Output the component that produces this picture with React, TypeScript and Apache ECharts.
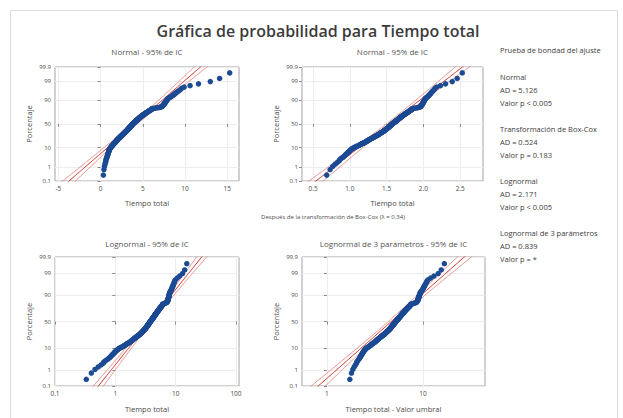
import React, { useEffect, useRef } from "react";
import * as echarts from "echarts";

const TIEMPO_TOTAL = [
  0.33, 0.4, 0.46, 0.52, 0.58, 0.63, 0.65, 0.69, 0.74, 0.78,
  0.81, 0.84, 0.86, 0.89, 0.91, 0.94, 0.96, 0.98, 1.0, 1.02,
  1.05, 1.08, 1.1, 1.13, 1.16, 1.2, 1.24, 1.28, 1.32, 1.36,
  1.4, 1.44, 1.47, 1.5, 1.53, 1.56, 1.6, 1.64, 1.68, 1.72,
  1.75, 1.78, 1.81, 1.84, 1.87, 1.89, 1.92, 1.95, 1.97, 2.0,
  2.03, 2.06, 2.09, 2.12, 2.15, 2.18, 2.21, 2.24, 2.27, 2.3,
  2.33, 2.36, 2.39, 2.42, 2.45, 2.48, 2.51, 2.54, 2.57, 2.6,
  2.62, 2.65, 2.67, 2.7, 2.72, 2.75, 2.77, 2.8, 2.82, 2.85,
  2.87, 2.9, 2.92, 2.95, 2.97, 3.0, 3.02, 3.05, 3.07, 3.1,
  3.12, 3.14, 3.16, 3.18, 3.2, 3.22, 3.24, 3.26, 3.28, 3.3,
  3.32, 3.34, 3.36, 3.38, 3.4, 3.42, 3.44, 3.46, 3.48, 3.5,
  3.52, 3.54, 3.56, 3.58, 3.6, 3.62, 3.64, 3.66, 3.68, 3.7,
  3.72, 3.74, 3.76, 3.78, 3.8, 3.82, 3.84, 3.86, 3.88, 3.9,
  3.93, 3.95, 3.98, 4.0, 4.03, 4.05, 4.08, 4.1, 4.13, 4.15,
  4.18, 4.2, 4.23, 4.25, 4.28, 4.3, 4.33, 4.35, 4.38, 4.4,
  4.42, 4.45, 4.47, 4.5, 4.52, 4.55, 4.57, 4.6, 4.62, 4.65,
  4.68, 4.71, 4.74, 4.77, 4.8, 4.83, 4.86, 4.89, 4.92, 4.95,
  4.98, 5.02, 5.05, 5.09, 5.12, 5.16, 5.19, 5.23, 5.26, 5.3,
  5.34, 5.38, 5.42, 5.46, 5.5, 5.54, 5.58, 5.62, 5.66, 5.7,
  5.75, 5.8, 5.85, 5.9, 5.94, 5.98, 6.02, 6.05, 6.08, 6.1,
  6.3, 6.5, 6.7, 6.9, 7.05, 7.15, 7.2, 7.25, 7.3, 7.35,
  7.38, 7.41, 7.44, 7.47, 7.5, 7.53, 7.56, 7.59, 7.62, 7.65,
  7.68, 7.71, 7.74, 7.77, 7.8, 7.84, 7.88, 7.92, 7.96, 8.0,
  8.1, 8.2, 8.3, 8.4, 8.5, 8.6, 8.7, 8.8, 8.9, 9.0,
  9.15, 9.3, 9.45, 9.6, 9.9, 10.6, 11.6, 13.0, 14.1, 15.3,
];

const PCT_TICKS = [0.1, 1, 10, 50, 90, 99, 99.9];
const X_TICKS_NORMAL = [-5, 0, 5, 10, 15];
const X_TICKS_BOXCOX = [0.5, 1.0, 1.5, 2.0, 2.5];
const X_TICKS_LOGNORMAL = [0.1, 1, 10, 100];
const X_TICKS_LOG3 = [1, 10];

const LAMBDA = 0.34;
const THRESHOLD = -1.4;
// fitted [location, scale]
const FIT_NORMAL = [4.05, 2.52];
const FIT_BOXCOX = [1.535, 0.322];
const FIT_LOGNORMAL = [0.575, 0.277]; // log10 units
const FIT_LOG3 = [0.67, 0.246]; // log10 units of (x - threshold)

const PANEL_TITLES = [
  "Normal - 95% de IC",
  "Normal - 95% de IC",
  "Lognormal - 95% de IC",
  "Lognormal de 3 parámetros - 95% de IC",
];
const X_NAMES = ["Tiempo total", "Tiempo total", "Tiempo total", "Tiempo total - Valor umbral"];
const GOF_LINES = [
  "Prueba de bondad del ajuste",
  "",
  "Normal",
  "AD = 5.126",
  "Valor p < 0.005",
  "",
  "Transformación de Box-Cox",
  "AD = 0.524",
  "Valor p = 0.183",
  "",
  "Lognormal",
  "AD = 2.171",
  "Valor p < 0.005",
  "",
  "Lognormal de 3 parámetros",
  "AD = 0.839",
  "Valor p = *",
];

function invNorm(p: number): number {
  const a = [-39.69683028665376, 220.9460984245205, -275.9285104469687, 138.357751867269, -30.66479806614716, 2.506628277459239];
  const b = [-54.47609879822406, 161.5858368580409, -155.6989798598866, 66.80131188771972, -13.28068155288572];
  const c = [-0.007784894002430293, -0.3223964580411365, -2.400758277161838, -2.549732539343734, 4.374664141464968, 2.938163982698783];
  const d = [0.007784695709041462, 0.3224671290700398, 2.445134137142996, 3.754408661907416];
  const pl = 0.02425;
  let q: number, r: number;
  if (p < pl) {
    q = Math.sqrt(-2 * Math.log(p));
    return (((((c[0] * q + c[1]) * q + c[2]) * q + c[3]) * q + c[4]) * q + c[5]) / ((((d[0] * q + d[1]) * q + d[2]) * q + d[3]) * q + 1);
  }
  if (p > 1 - pl) {
    q = Math.sqrt(-2 * Math.log(1 - p));
    return -(((((c[0] * q + c[1]) * q + c[2]) * q + c[3]) * q + c[4]) * q + c[5]) / ((((d[0] * q + d[1]) * q + d[2]) * q + d[3]) * q + 1);
  }
  q = p - 0.5;
  r = q * q;
  return ((((((a[0] * r + a[1]) * r + a[2]) * r + a[3]) * r + a[4]) * r + a[5]) * q) / (((((b[0] * r + b[1]) * r + b[2]) * r + b[3]) * r + b[4]) * r + 1);
}

const FONT = "Open Sans";
const TXT = "#4a4a4a";

export default function App() {
  const ref = useRef<HTMLDivElement>(null);
  useEffect(() => {
    document.body.style.margin = "0";
    const chart = echarts.init(ref.current!, undefined, { renderer: "svg" });
    const n = TIEMPO_TOTAL.length;
    const zs = TIEMPO_TOTAL.map((_, i) => invNorm((i + 1 - 0.3) / (n + 0.4)));
    const yTickZ = PCT_TICKS.map((p) => invNorm(p / 100));
    const zLo = Math.min(...yTickZ) - 1e-6;
    const zHi = Math.max(...yTickZ) + 1e-6;

    const panels = [
      { tf: (v: number) => v, fit: FIT_NORMAL, ticks: X_TICKS_NORMAL, min: -5.4, max: 16.4, fmt: (t: number) => String(t) },
      { tf: (v: number) => Math.pow(v, LAMBDA), fit: FIT_BOXCOX, ticks: X_TICKS_BOXCOX, min: 0.35, max: 2.81, fmt: (t: number) => t.toFixed(1) },
      { tf: (v: number) => Math.log10(v), fit: FIT_LOGNORMAL, ticks: X_TICKS_LOGNORMAL, min: -1.000001, max: 2.05, fmt: (t: number) => String(t), log: true },
      { tf: (v: number) => Math.log10(v - THRESHOLD), fit: FIT_LOG3, ticks: X_TICKS_LOG3, min: -0.26, max: 1.646, fmt: (t: number) => String(t), log: true },
    ];
    const grids = [
      { left: 55, top: 67, width: 184, height: 114 },
      { left: 302, top: 67, width: 181, height: 114 },
      { left: 55, top: 257, width: 184, height: 129 },
      { left: 302, top: 257, width: 183, height: 129 },
    ];

    const xAxis: any[] = [];
    const yAxis: any[] = [];
    const series: any[] = [];
    const zLine: number[] = [];
    for (let z = -3.3; z <= 3.3001; z += 0.05) zLine.push(z);

    panels.forEach((pn, k) => {
      const tickVals = pn.ticks.map((t) => (pn.log ? Math.log10(t) : t));
      xAxis.push({
        type: "value",
        gridIndex: k,
        min: pn.min,
        max: pn.max,
        axisLine: { show: false },
        axisTick: { show: true, customValues: tickVals, length: 3, lineStyle: { color: "#8a8a8a" } },
        axisLabel: {
          customValues: tickVals,
          fontSize: 6.5,
          color: TXT,
          margin: 4,
          fontFamily: FONT,
          formatter: (v: number) => {
            const i = tickVals.findIndex((t) => Math.abs(t - v) < 1e-6);
            return i >= 0 ? pn.fmt(pn.ticks[i]) : "";
          },
        },
        splitLine: { show: true, lineStyle: { color: "#ededed", width: 1 } },
        name: X_NAMES[k],
        nameLocation: "middle",
        nameGap: k < 2 ? 18 : 19,
        nameTextStyle: { fontSize: 7.5, color: TXT, fontFamily: FONT },
      });
      yAxis.push({
        type: "value",
        gridIndex: k,
        min: zLo,
        max: zHi,
        axisLine: { show: false },
        axisTick: { show: true, customValues: yTickZ, length: 3, lineStyle: { color: "#8a8a8a" } },
        axisLabel: {
          customValues: yTickZ,
          fontSize: 6,
          color: TXT,
          margin: 4,
          fontFamily: FONT,
          formatter: (v: number) => {
            const i = yTickZ.findIndex((t) => Math.abs(t - v) < 1e-6);
            return i >= 0 ? String(PCT_TICKS[i]) : "";
          },
        },
        splitLine: { show: true, lineStyle: { color: "#ededed", width: 1 } },
        name: "Porcentaje",
        nameLocation: "middle",
        nameGap: 22,
        nameRotate: 90,
        nameTextStyle: { fontSize: 7.5, color: TXT, fontFamily: FONT },
      });
      const [mu, sd] = pn.fit;
      const half = (z: number) => 1.96 * sd * Math.sqrt((1 + (z * z) / 2) / n);
      const lineBase = {
        type: "line",
        xAxisIndex: k,
        yAxisIndex: k,
        showSymbol: false,
        symbol: "none",
        silent: true,
        clip: true,
        z: 3,
      };
      series.push({ ...lineBase, data: zLine.map((z) => [mu + z * sd - half(z), z]), lineStyle: { color: "#e07a72", width: 0.8 } });
      series.push({ ...lineBase, data: zLine.map((z) => [mu + z * sd + half(z), z]), lineStyle: { color: "#e07a72", width: 0.8 } });
      series.push({ ...lineBase, data: zLine.map((z) => [mu + z * sd, z]), lineStyle: { color: "#c8302a", width: 1 } });
      series.push({
        type: "scatter",
        xAxisIndex: k,
        yAxisIndex: k,
        symbolSize: 5.5,
        z: 4,
        itemStyle: { color: "#1c4a93", opacity: 1 },
        data: TIEMPO_TOTAL.map((v, i) => [pn.tf(v), zs[i]]),
      });
    });

    const centers = grids.map((g) => g.left + g.width / 2);
    const graphic: any[] = [
      {
        type: "rect",
        shape: { x: 10.5, y: 10.5, width: 607, height: 430 },
        style: { fill: "none", stroke: "#dddddd", lineWidth: 1 },
        z: -1,
        silent: true,
      },
      {
        type: "text",
        x: 318,
        y: 31,
        style: { text: "Gráfica de probabilidad para Tiempo total", fontSize: 16, fontWeight: 600, fill: "#3c3c3c", fontFamily: FONT, textAlign: "center", textVerticalAlign: "middle" },
      },
      {
        type: "text",
        x: 333,
        y: 217,
        style: { text: "Después de la transformación de Box-Cox (λ = 0.34)", fontSize: 6, fill: TXT, fontFamily: FONT, textAlign: "center", textVerticalAlign: "middle" },
      },
    ];
    PANEL_TITLES.forEach((t, k) => {
      graphic.push({
        type: "text",
        x: centers[k],
        y: k < 2 ? 51 : 243,
        style: { text: t, fontSize: 8, fill: "#555555", fontFamily: FONT, textAlign: "center", textVerticalAlign: "middle" },
      });
    });
    GOF_LINES.forEach((t, i) => {
      if (!t) return;
      graphic.push({
        type: "text",
        x: 500,
        y: 50 + i * 13 + (i >= 1 ? 1 : 0),
        style: { text: t, fontSize: 7.5, fill: "#3c3c3c", fontFamily: FONT, textAlign: "left", textVerticalAlign: "middle" },
      });
    });

    chart.setOption({
      animation: false,
      backgroundColor: "#ffffff",
      textStyle: { fontFamily: FONT },
      grid: grids.map((g) => ({ ...g, show: true, borderColor: "#a3a3a3", borderWidth: 1, backgroundColor: "transparent", containLabel: false })),
      xAxis,
      yAxis,
      series,
      graphic,
    });
    return () => chart.dispose();
  }, []);
  return <div ref={ref} style={{ width: 623, height: 418 }} />;
}
